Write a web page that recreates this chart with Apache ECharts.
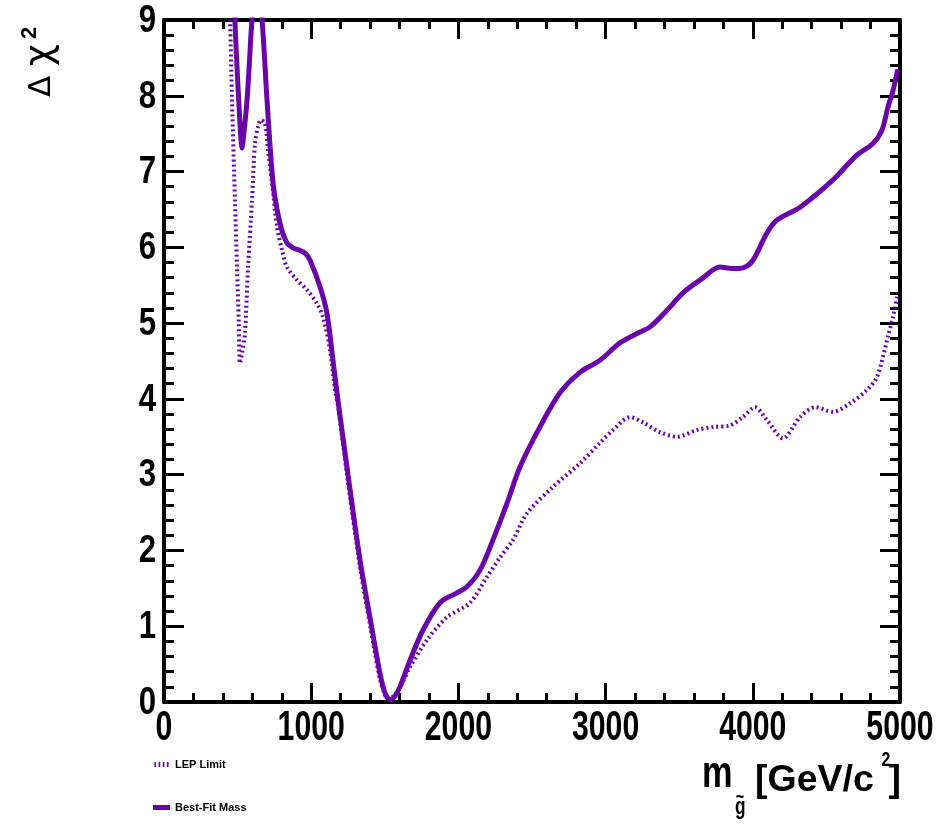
<!DOCTYPE html>
<html>
<head>
<meta charset="utf-8">
<script src="https://cdn.jsdelivr.net/npm/echarts@6/dist/echarts.min.js"></script>
<style>
html,body{margin:0;padding:0;background:#fff;}
#chart{width:950px;height:828px;}
</style>
</head>
<body>
<div id="chart"></div>
<script>
// ---- data ----
const seriesNames = ['LEP Limit', 'Best-Fit Mass'];
const xTickValues = [0, 1000, 2000, 3000, 4000, 5000];
const yTickValues = [0, 1, 2, 3, 4, 5, 6, 7, 8, 9];

const lepX = [440,449,462,482,496,508,516,530,550,571,598,618,640,660,686,707,734,768,802,835,903,971,1039,1080,1128,1162,1182,1250,1332,1399,1467,1500,1525,1560,1610,1671,1787,1923,2079,2194,2280,2371,2466,2643,2826,2962,3051,3166,3254,3370,3485,3621,3730,3845,3933,4015,4096,4205,4321,4423,4545,4660,4776,4844,4918,4952,4985];
const lepY = [9.6,9.0,7.94,6.62,5.74,5.0,4.47,4.6,4.87,5.74,6.62,7.37,7.6,7.68,7.64,7.28,6.85,6.27,5.96,5.74,5.57,5.44,5.26,5.08,4.64,4.12,3.9,2.9,1.78,1.02,0.3,0.1,0.04,0.08,0.22,0.46,0.82,1.12,1.31,1.65,1.9,2.14,2.49,2.84,3.15,3.42,3.59,3.76,3.69,3.56,3.50,3.59,3.63,3.65,3.76,3.89,3.72,3.48,3.76,3.89,3.83,3.94,4.12,4.29,4.82,5.08,5.38];

const fitX = [462,482,496,510,522,530,540,564,582,598,632,666,700,741,788,835,880,924,960,992,1060,1107,1148,1182,1250,1332,1399,1467,1505,1535,1570,1603,1671,1760,1875,1990,2058,2147,2235,2330,2418,2554,2690,2826,2962,3098,3220,3302,3417,3526,3650,3777,3860,3933,4001,4096,4164,4321,4545,4708,4817,4878,4918,4950,4985];
const fitY = [10.5,9.0,8.38,7.85,7.45,7.31,7.45,7.94,8.5,9.0,9.5,9.0,7.94,6.85,6.32,6.06,5.99,5.96,5.92,5.83,5.48,5.13,4.51,3.98,3.0,1.87,1.12,0.38,0.1,0.03,0.08,0.2,0.55,0.95,1.31,1.44,1.52,1.74,2.14,2.62,3.10,3.63,4.08,4.35,4.51,4.74,4.87,4.95,5.17,5.40,5.58,5.74,5.72,5.73,5.83,6.19,6.36,6.53,6.89,7.22,7.37,7.55,7.85,8.05,8.35];

const lepData = lepX.map((x, i) => [x, lepY[i]]);
const fitData = fitX.map((x, i) => [x, fitY[i]]);

const PURPLE = '#6a06a8';
const FONT = "'Liberation Sans',Arial,Helvetica,sans-serif";
const SQUEEZE = 0.72;   // the reference uses a horizontally condensed bold face

function xAxisDef(pos) {
  return {
    type: 'value', position: pos, min: 0, max: 5000, interval: 1000,
    axisLine: { show: true, onZero: false, lineStyle: { color: '#000', width: 4 } },
    axisTick: { show: true, inside: true, length: 19, lineStyle: { color: '#000', width: 3 } },
    minorTick: { show: true, splitNumber: 5, length: 9, lineStyle: { color: '#000', width: 3 } },
    splitLine: { show: false }, minorSplitLine: { show: false },
    axisLabel: { show: false }
  };
}
function yAxisDef(pos) {
  return {
    type: 'value', position: pos, min: 0, max: 9, interval: 1,
    axisLine: { show: true, onZero: false, lineStyle: { color: '#000', width: 4 } },
    axisTick: { show: true, inside: true, length: 20, lineStyle: { color: '#000', width: 3 } },
    minorTick: { show: true, splitNumber: 5, length: 10, lineStyle: { color: '#000', width: 3 } },
    splitLine: { show: false }, minorSplitLine: { show: false },
    axisLabel: { show: false }
  };
}

const chart = echarts.init(document.getElementById('chart'), null, { renderer: 'canvas' });
chart.setOption({
  animation: false,
  backgroundColor: '#fff',
  grid: { left: 164, right: 50, top: 20, bottom: 126, containLabel: false },
  xAxis: [xAxisDef('bottom'), xAxisDef('top')],
  yAxis: [yAxisDef('left'), yAxisDef('right')],
  legend: {
    orient: 'vertical', left: 148, top: 754, itemWidth: 17, itemHeight: 5, itemGap: 32,
    data: [
      { name: seriesNames[0], icon: 'path://M0,0h2v6h-2z M5,0h2v6h-2z M10,0h2v6h-2z M15,0h2v6h-2z' },
      { name: seriesNames[1], icon: 'rect' }
    ],
    itemStyle: { color: PURPLE },
    textStyle: { color: '#000', fontFamily: FONT, fontWeight: 'bold', fontSize: 11 }
  },
  series: [
    {
      name: seriesNames[0], type: 'line', data: lepData, xAxisIndex: 0, yAxisIndex: 0,
      showSymbol: false, symbol: 'none', smooth: 0.3, clip: true,
      lineStyle: { color: PURPLE, width: 4, type: [2, 3] }, itemStyle: { color: PURPLE }
    },
    {
      name: seriesNames[1], type: 'line', data: fitData, xAxisIndex: 0, yAxisIndex: 0,
      showSymbol: false, symbol: 'none', smooth: 0.3, clip: true,
      lineStyle: { color: PURPLE, width: 5 }, itemStyle: { color: PURPLE }
    }
  ]
});

// Tick labels placed through the library's own axis scales (condensed bold face).
const x0 = chart.convertToPixel({ xAxisIndex: 0 }, 0);
const y0 = chart.convertToPixel({ yAxisIndex: 0 }, 0);
const tickLabelGraphics = [];
xTickValues.forEach(v => {
  tickLabelGraphics.push({
    type: 'text', x: chart.convertToPixel({ xAxisIndex: 0 }, v), y: y0 + 26, scaleX: SQUEEZE,
    style: { text: String(v), fontFamily: FONT, fontWeight: 'bold', fontSize: 42, fill: '#000',
             textAlign: 'center', textVerticalAlign: 'middle' }
  });
});
yTickValues.forEach(v => {
  tickLabelGraphics.push({
    type: 'text', x: x0 - 8, y: chart.convertToPixel({ yAxisIndex: 0 }, v) + 1, scaleX: 0.8,
    style: { text: String(v), fontFamily: FONT, fontWeight: 'bold', fontSize: 39, fill: '#000',
             textAlign: 'right', textVerticalAlign: 'middle' }
  });
});

const titleGraphics = [
  // y-axis title  Δχ²  (rotated, reads bottom to top)
  { type: 'text', x: 42, y: 97, rotation: Math.PI / 2,
    style: { text: 'Δ', fontFamily: "'DejaVu Sans',sans-serif", fontSize: 31, fill: '#000', textAlign: 'left', textVerticalAlign: 'middle' } },
  { type: 'text', x: 41, y: 66, rotation: Math.PI / 2,
    style: { text: 'χ', fontFamily: "'DejaVu Sans',sans-serif", fontSize: 38, fill: '#000', textAlign: 'left', textVerticalAlign: 'middle' } },
  { type: 'text', x: 30, y: 39, rotation: Math.PI / 2,
    style: { text: '2', fontFamily: FONT, fontWeight: 'bold', fontSize: 22, fill: '#000', textAlign: 'left', textVerticalAlign: 'middle' } },
  // x-axis title  m_g̃ [GeV/c²]
  { type: 'text', x: 702, y: 775, scaleX: 0.78,
    style: { text: 'm', fontFamily: FONT, fontWeight: 'bold', fontSize: 44, fill: '#000', textAlign: 'left', textVerticalAlign: 'middle' } },
  { type: 'text', x: 735, y: 807, scaleX: SQUEEZE,
    style: { text: 'g', fontFamily: FONT, fontWeight: 'bold', fontSize: 24, fill: '#000', textAlign: 'left', textVerticalAlign: 'middle' } },
  { type: 'text', x: 740, y: 797, scaleX: SQUEEZE,
    style: { text: '~', fontFamily: FONT, fontWeight: 'bold', fontSize: 20, fill: '#000', textAlign: 'center', textVerticalAlign: 'middle' } },
  { type: 'text', x: 755, y: 780.5,
    style: { text: '[GeV/c', fontFamily: FONT, fontWeight: 'bold', fontSize: 37.5, fill: '#000', textAlign: 'left', textVerticalAlign: 'middle' } },
  { type: 'text', x: 886, y: 760.5, scaleX: 0.76,
    style: { text: '2', fontFamily: FONT, fontWeight: 'bold', fontSize: 21, fill: '#000', textAlign: 'center', textVerticalAlign: 'middle' } },
  { type: 'text', x: 901, y: 780.5,
    style: { text: ']', fontFamily: FONT, fontWeight: 'bold', fontSize: 37.5, fill: '#000', textAlign: 'right', textVerticalAlign: 'middle' } }
];

chart.setOption({ graphic: tickLabelGraphics.concat(titleGraphics) });
</script>
</body>
</html>
